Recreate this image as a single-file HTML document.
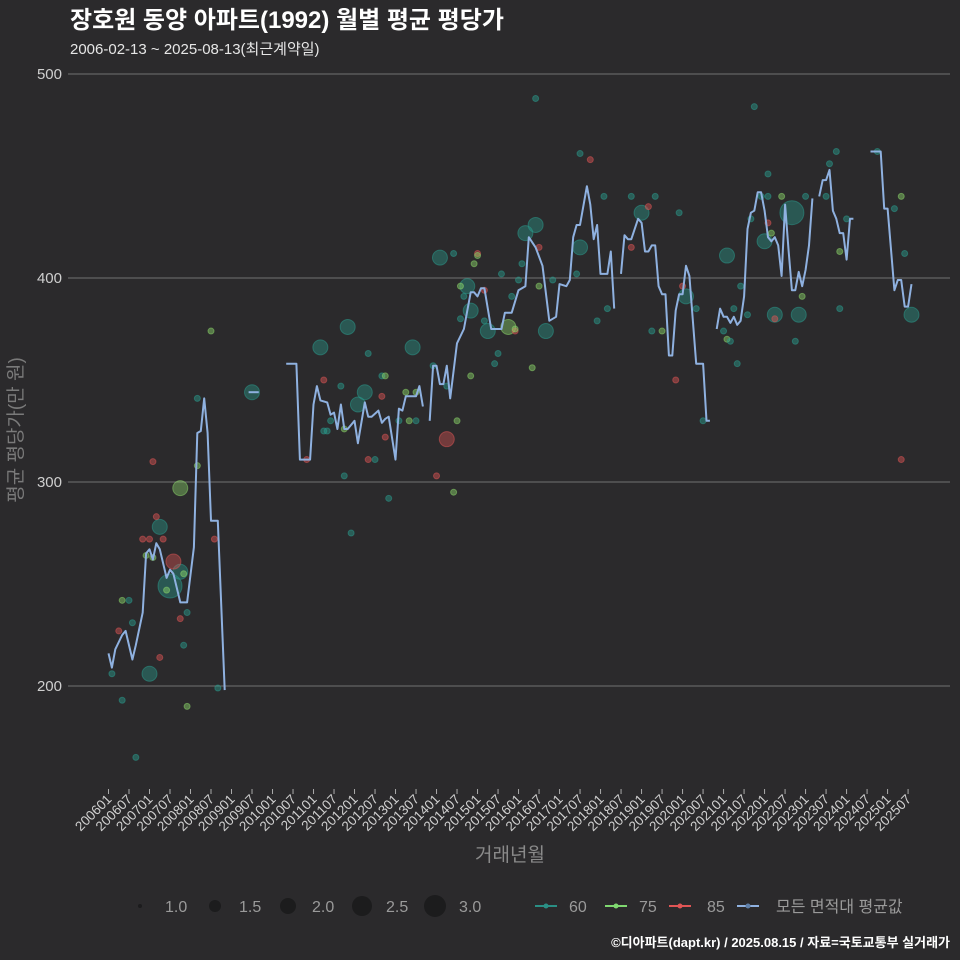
<!DOCTYPE html>
<html><head><meta charset="utf-8">
<style>
html,body{margin:0;padding:0;background:#2b2a2c;}
svg{display:block;font-family:"Liberation Sans","Noto Sans CJK KR",sans-serif;}
</style></head>
<body>
<svg id="chart" width="960" height="960" viewBox="0 0 960 960" xmlns="http://www.w3.org/2000/svg">
<rect width="960" height="960" fill="#2b2a2c"/>
<text x="70" y="28" fill="#ffffff" font-size="24" font-weight="bold">장호원 동양 아파트(1992) 월별 평균 평당가</text>
<text x="70" y="54" fill="#e6e6e6" font-size="15">2006-02-13 ~ 2025-08-13(최근계약일)</text>
<g id="grid"></g>
<g id="yticks"></g>
<g id="xticks"></g>
<g id="dots"></g>
<g id="line"></g>
<text transform="translate(22,430) rotate(-90)" text-anchor="middle" fill="#7a7a7a" font-size="19">평균 평당가(만 원)</text>
<text x="510" y="861" text-anchor="middle" fill="#8a8a8a" font-size="19">거래년월</text>
<g font-size="16" fill="#9a9a9a">
<circle cx="140" cy="906" r="2" fill="#1c1c1d"/><text x="165" y="912">1.0</text>
<circle cx="215" cy="906" r="6" fill="#1c1c1d"/><text x="239" y="912">1.5</text>
<circle cx="288" cy="906" r="8" fill="#1c1c1d"/><text x="312" y="912">2.0</text>
<circle cx="362" cy="906" r="10" fill="#1c1c1d"/><text x="386" y="912">2.5</text>
<circle cx="435" cy="906" r="11" fill="#1c1c1d"/><text x="459" y="912">3.0</text>
</g>
<g font-size="16" fill="#9a9a9a">
<line x1="535" y1="906" x2="557" y2="906" stroke="#2a8f85" stroke-width="2"/><circle cx="546" cy="906" r="2.5" fill="#2a8f85"/><text x="569" y="912">60</text>
<line x1="605" y1="906" x2="627" y2="906" stroke="#7fd870" stroke-width="2"/><circle cx="616" cy="906" r="2.5" fill="#7fd870"/><text x="639" y="912">75</text>
<line x1="669" y1="906" x2="691" y2="906" stroke="#e05555" stroke-width="2"/><circle cx="680" cy="906" r="2.5" fill="#e05555"/><text x="707" y="912">85</text>
<line x1="737" y1="906" x2="759" y2="906" stroke="#8fb1e0" stroke-width="2"/><circle cx="748" cy="906" r="2.5" fill="#5f7fa8"/><text x="776" y="912">모든 면적대 평균값</text>
</g>
<text x="950" y="947" text-anchor="end" fill="#ffffff" font-size="13" font-weight="bold">©디아파트(dapt.kr) / 2025.08.15 / 자료=국토교통부 실거래가</text>
</svg>
<script>
const yTicks = [200, 300, 400, 500];
const xTickLabels = ["200601","200607","200701","200707","200801","200807","200901","200907","201001","201007","201101","201107","201201","201207","201301","201307","201401","201407","201501","201507","201601","201607","201701","201707","201801","201807","201901","201907","202001","202007","202101","202107","202201","202207","202301","202307","202401","202407","202501","202507"];
// average line: months (yyyymm) and values; null breaks the line
const lineMonths = [200601,200602,200603,200605,200606,200608,200609,200611,200612,200701,200702,200703,200704,200706,200707,200708,200710,200712,200802,200803,200804,200805,200806,200807,200809,200811,null,200906,200909,null,201005,201008,201009,201012,201101,201102,201103,201105,201106,201107,201108,201109,201110,201111,201201,201202,201204,201205,201206,201208,201209,201210,201211,201301,201302,201303,201304,201307,201308,201309,null,201311,201312,201401,201402,201403,201404,201405,201407,201409,201411,201412,201501,201502,201503,201505,201508,201509,201511,201601,201603,201604,201606,201608,201610,201612,201701,201703,201704,201705,201706,201707,201709,201710,201711,201712,201801,201803,201804,201805,null,201807,201808,201809,201810,201812,201901,201902,201903,201904,201905,201906,201907,201908,201909,201910,201911,201912,202001,202002,202003,202005,202007,202008,202009,null,202011,202012,202101,202102,202103,202104,202105,202106,202107,202108,202109,202110,202111,202112,202201,202202,202203,202204,202205,202206,202207,202208,202209,202210,202211,202212,202301,202302,202303,null,202305,202306,202307,202308,202309,202310,202311,202312,202401,202402,202403,null,202408,202411,202412,202501,202503,202504,202505,202506,202507,202508];
const lineValues = [216,209,218,225,227,213,220,236,265,267,262,270,267,253,257,255,241,241,268,324,325,341,324,281,281,198,null,344,344,null,358,358,311,311,338,347,340,339,333,334,326,338,326,326,330,319,339,332,332,335,329,331,332,311,336,335,342,342,347,337,null,330,357,357,348,348,357,341,368,375,393,393,391,395,395,375,375,383,383,394,396,420,415,406,379,381,397,396,399,420,426,426,445,436,419,426,402,402,413,385,null,402,421,419,419,429,427,413,413,416,416,396,392,392,362,362,384,392,392,406,401,358,358,330,330,null,375,385,381,381,378,381,377,379,391,424,432,433,442,442,433,420,418,420,416,401,436,414,394,394,403,396,404,416,439,null,440,448,448,453,433,429,422,422,409,429,429,null,462,462,434,434,394,399,399,386,386,397];
// scatter points: month, value, area type, count
const dotMonths = [200701,200704,200707,200710,200710,200708,200907,201103,201111,201202,201204,201306,201402,201404,201410,201411,201504,201510,201603,201606,201609,201707,201901,202002,202102,202201,202209,202204,202211,202508,
200602,200605,200608,200607,200605,200604,200702,200703,200611,200701,200705,200612,200702,200704,200711,200712,200710,200706,200711,200712,200803,200803,200808,200809,200807,200609,201011,201104,201109,201104,201105,201106,201110,201110,201205,201207,201209,201210,201209,201210,201211,201112,201304,201307,201305,201307,201302,201401,201205,201406,201408,201409,201406,201501,201501,201412,201503,201512,201512,201408,201503,201312,201404,201411,201407,201506,201507,201605,201607,201607,201602,201508,201601,201511,201611,201706,201606,201710,201707,201802,201810,201905,201903,201810,201912,201904,201907,201911,201712,201803,202007,202005,202001,202110,202202,202202,202112,202206,202301,202308,202310,202307,202401,202311,202202,202203,202204,202109,202106,202104,202108,202101,202102,202103,202105,202212,202210,202311,202505,202503,202506,202410,202505];
const dotValues = [206,278,249,256,297,261,344,366,376,338,344,366,410,321,396,384,374,376,422,426,374,415,432,391,411,418,432,382,382,382,
206,193,231,242,242,227,310,283,272,272,272,264,263,214,220,236,233,247,255,190,341,308,272,199,374,165,311,350,347,325,325,330,303,326,311,311,352,352,342,322,292,275,344,344,330,330,330,303,363,295,396,391,412,412,411,407,394,374,375,380,379,357,347,352,330,358,363,356,396,415,407,402,399,391,399,402,488,458,461,440,440,440,435,415,432,374,374,350,379,385,330,385,396,484,451,440,440,440,440,456,462,440,429,413,427,422,380,429,396,385,382,374,370,369,358,391,369,385,440,434,412,462,311];
const dotAreas = [60,60,60,60,75,85,60,60,60,60,60,60,60,85,60,60,60,75,60,60,60,60,60,60,60,60,60,60,60,60,
60,60,60,60,75,85,85,85,85,85,85,75,75,85,60,60,85,75,75,75,60,75,85,60,75,60,85,85,60,60,60,60,60,75,85,60,60,75,85,85,60,60,75,75,75,60,60,85,60,75,75,60,60,85,75,75,85,85,75,60,60,60,60,75,75,60,60,75,75,85,60,60,60,60,60,60,60,85,60,60,60,60,85,85,60,60,75,85,60,60,60,60,85,60,60,60,60,75,60,60,60,60,60,75,85,75,85,60,60,60,60,60,75,60,60,75,60,60,75,60,60,60,85];
const dotCounts = [2,2,3,2,2,2,2,2,2,2,2,2,2,2,2,2,2,2,2,2,2,2,2,2,2,2,3,2,2,2];
const areaColors = {60:"#2a9d8f", 75:"#8ed96b", 85:"#e05555"};

const svgNS = "http://www.w3.org/2000/svg";
function monthIndex(ym){ const y=Math.floor(ym/100), m=ym%100; return (y-2006)*12 + (m-1); }
function xScale(ym){ return 108.5 + monthIndex(ym)*3.417; }
function yScale(v){ return 686 - (v-200)*2.04; }
function mk(tag, attrs, parent){ const e=document.createElementNS(svgNS, tag); for(const k in attrs) e.setAttribute(k, attrs[k]); parent.appendChild(e); return e; }

const grid = document.getElementById('grid');
const yt = document.getElementById('yticks');
yTicks.forEach(v => {
  const l = mk('line', {x1:68, x2:950, y1:yScale(v), y2:yScale(v), stroke:'#727272', 'stroke-width':1}, grid);
  
  
  const t = mk('text', {x:62, y:yScale(v)+5, 'text-anchor':'end', fill:'#cfcfcf', 'font-size':15}, yt);
  t.textContent = v;
  
  
});
const xt = document.getElementById('xticks');
xTickLabels.forEach(lbl => {
  const x = xScale(parseInt(lbl));
  const tk = mk('line', {x1:x, x2:x, y1:789, y2:794, stroke:'#aaaaaa', 'stroke-width':1}, xt);
  
  
  const t = mk('text', {x:0, y:0, 'text-anchor':'end', fill:'#d0d0d0', 'font-size':13.5, transform:`translate(${x+4},${800}) rotate(-45)`}, xt);
  t.textContent = lbl;
  
  
});

const dots = document.getElementById('dots');
dotMonths.forEach((ym, i) => {
  const n = dotCounts[i] || 1;
  const r = 3 + (n-1)*4.5;
  const col = areaColors[dotAreas[i]];
  const c = mk('circle', {cx:xScale(ym), cy:yScale(dotValues[i]), r:r, fill:col, 'fill-opacity':n>1?0.4:0.45, stroke:col, 'stroke-opacity':0.5, 'stroke-width':1}, dots);
  
  
});

const lineG = document.getElementById('line');
let seg = [];
function flush(){
  if(seg.length>1){
    const p = mk('polyline', {points:seg.join(' '), fill:'none', stroke:'#8fb1e0', 'stroke-width':2, 'stroke-linejoin':'round'}, lineG);
    
    
  }
  seg = [];
}
lineMonths.forEach((ym, i) => {
  if(ym === null || lineValues[i] === null){ flush(); return; }
  seg.push(xScale(ym).toFixed(1) + ',' + yScale(lineValues[i]).toFixed(1));
});
flush();
</script>
</body></html>
